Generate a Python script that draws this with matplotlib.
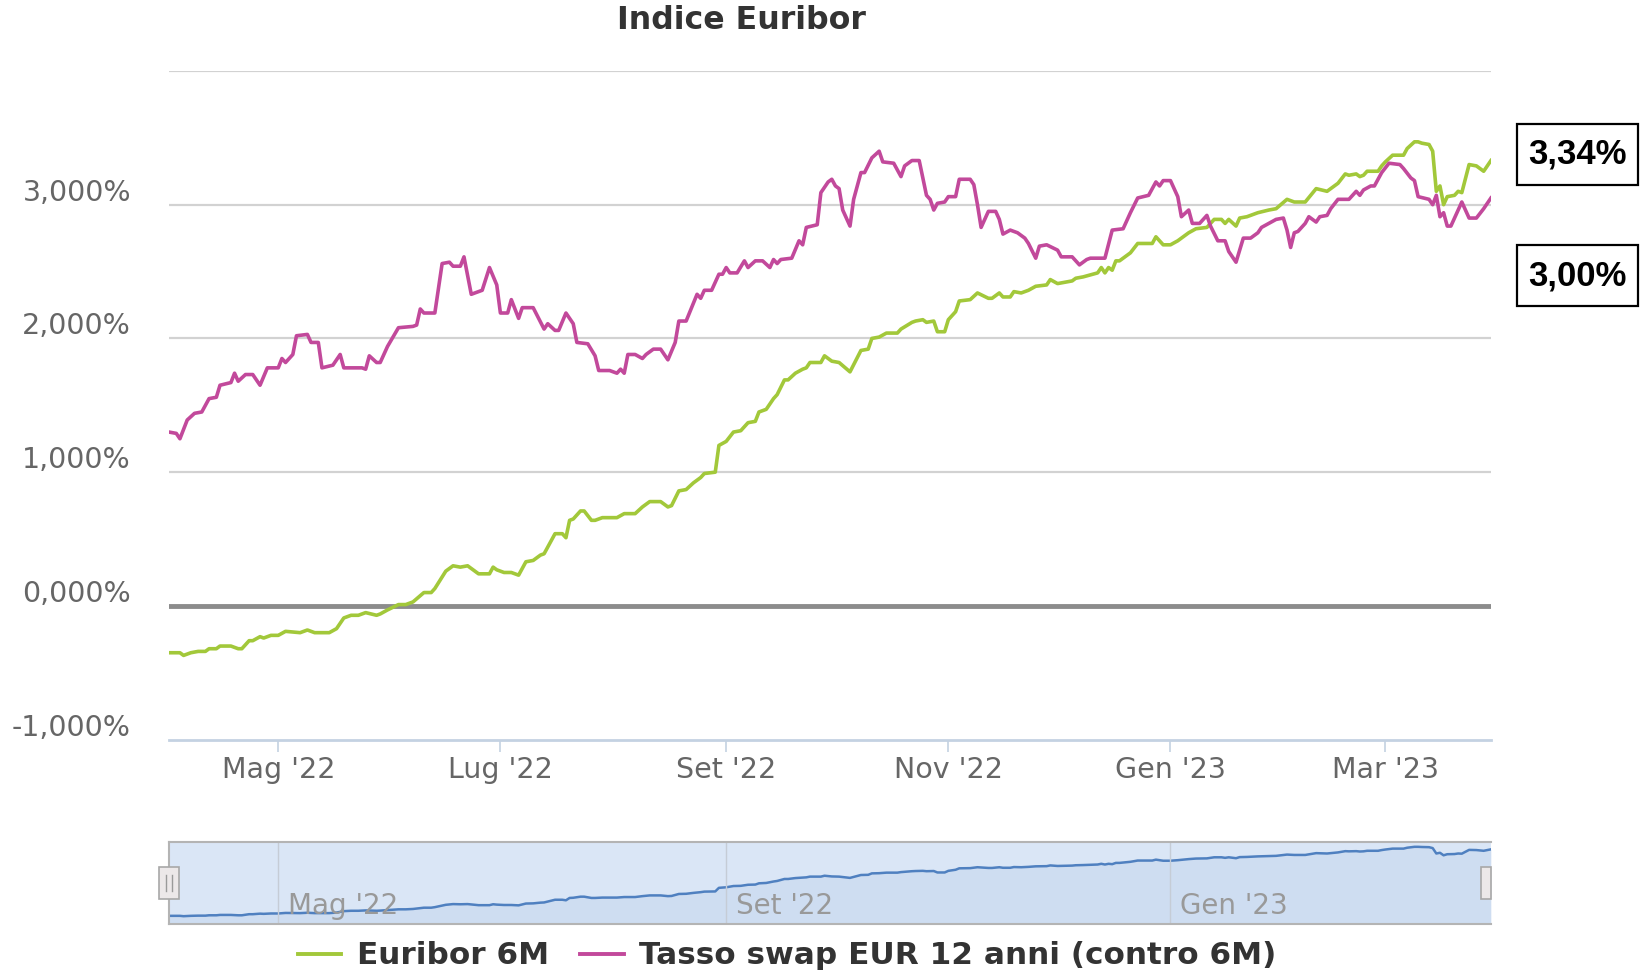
import numpy as np
import matplotlib
matplotlib.use('Agg')
import matplotlib.pyplot as plt
from matplotlib.lines import Line2D
from matplotlib.patches import Rectangle
from matplotlib.transforms import ScaledTranslation, blended_transform_factory

# ---- data (days counted from START) ----
START = np.datetime64('2022-04-01')
END = np.datetime64('2023-03-30')

euribor_days = [
    0, 3, 4, 6, 8, 10, 11, 13, 14, 17, 19, 20, 22, 23, 25, 26, 28, 30, 32, 36,
    38, 40, 44, 46, 48, 50, 52, 54, 57, 58, 60, 63, 65, 67, 70, 72, 73, 76, 78, 80,
    82, 85, 88, 89, 90, 92, 94, 96, 98, 100, 102, 103, 106, 108, 109, 110, 111, 113, 114, 116,
    117, 119, 123, 125, 128, 130, 132, 135, 137, 138, 140, 142, 144, 146, 147, 150, 151, 153, 155, 157,
    159, 161, 162, 164, 166, 167, 169, 170, 172, 174, 175, 176, 179, 180, 182, 184, 187, 190, 192, 193,
    195, 197, 200, 201, 204, 205, 207, 208, 210, 211, 213, 214, 216, 217, 220, 222, 225, 226, 228, 229,
    231, 232, 234, 236, 238, 241, 242, 244, 248, 249, 251, 255, 256, 257, 258, 259, 260, 261, 264, 266,
    270, 271, 273, 275, 277, 280, 282, 285, 287, 289, 290, 291, 293, 294, 296, 299, 302, 304, 307, 309,
    312, 315, 318, 321, 323, 324, 326, 327, 328, 329, 332, 333, 334, 336, 339, 340, 342, 343, 344, 346,
    347, 348, 349, 350, 351, 353, 354, 355, 357, 359, 361, 362, 363,
]
euribor_6m = [
    -0.35, -0.35, -0.37, -0.35, -0.34, -0.34, -0.32, -0.32, -0.30, -0.30, -0.32, -0.32, -0.26, -0.26, -0.23, -0.24, -0.22, -0.22, -0.19, -0.20,
    -0.18, -0.20, -0.20, -0.17, -0.09, -0.07, -0.07, -0.05, -0.07, -0.06, -0.03, 0.01, 0.01, 0.03, 0.10, 0.10, 0.13, 0.26, 0.30, 0.29,
    0.30, 0.24, 0.24, 0.29, 0.27, 0.25, 0.25, 0.23, 0.33, 0.34, 0.38, 0.39, 0.54, 0.54, 0.51, 0.64, 0.65, 0.71, 0.71, 0.64,
    0.64, 0.66, 0.66, 0.69, 0.69, 0.74, 0.78, 0.78, 0.74, 0.75, 0.86, 0.87, 0.92, 0.96, 0.99, 1.00, 1.20, 1.23, 1.30, 1.31,
    1.37, 1.38, 1.45, 1.47, 1.55, 1.58, 1.69, 1.69, 1.74, 1.77, 1.78, 1.82, 1.82, 1.87, 1.83, 1.82, 1.75, 1.91, 1.92, 2.00,
    2.01, 2.04, 2.04, 2.07, 2.12, 2.13, 2.14, 2.12, 2.13, 2.05, 2.05, 2.14, 2.20, 2.28, 2.29, 2.34, 2.30, 2.30, 2.34, 2.31,
    2.31, 2.35, 2.34, 2.36, 2.39, 2.40, 2.44, 2.41, 2.43, 2.45, 2.46, 2.49, 2.53, 2.49, 2.53, 2.51, 2.58, 2.58, 2.64, 2.71,
    2.71, 2.76, 2.70, 2.70, 2.73, 2.79, 2.82, 2.83, 2.89, 2.89, 2.86, 2.89, 2.84, 2.90, 2.91, 2.94, 2.96, 2.97, 3.04, 3.02,
    3.02, 3.12, 3.10, 3.16, 3.23, 3.22, 3.23, 3.21, 3.22, 3.25, 3.25, 3.29, 3.32, 3.37, 3.37, 3.42, 3.47, 3.47, 3.46, 3.45,
    3.40, 3.10, 3.14, 3.00, 3.06, 3.07, 3.10, 3.09, 3.30, 3.29, 3.25, 3.29, 3.33,
]

swap_days = [
    0, 2, 3, 5, 7, 9, 11, 13, 14, 17, 18, 19, 21, 23, 25, 27, 30, 31, 32, 34,
    35, 38, 39, 41, 42, 45, 47, 48, 53, 54, 55, 57, 58, 60, 63, 67, 68, 69, 70, 73,
    75, 77, 78, 80, 81, 83, 85, 86, 88, 90, 91, 93, 94, 96, 97, 100, 103, 104, 106, 107,
    109, 111, 112, 115, 117, 118, 121, 123, 124, 125, 126, 128, 130, 131, 133, 135, 137, 139, 140, 142,
    145, 146, 147, 149, 151, 152, 153, 154, 156, 158, 159, 161, 163, 165, 166, 167, 168, 171, 173, 174,
    175, 178, 179, 181, 182, 183, 184, 185, 187, 188, 190, 191, 193, 195, 196, 199, 201, 202, 204, 206,
    208, 209, 210, 211, 213, 214, 216, 217, 220, 221, 222, 223, 225, 227, 228, 229, 231, 233, 235, 236,
    238, 239, 241, 244, 245, 248, 250, 252, 253, 257, 259, 262, 264, 266, 269, 271, 272, 273, 275, 277,
    278, 280, 281, 283, 285, 286, 288, 290, 291, 293, 295, 297, 299, 300, 302, 304, 306, 307, 308, 309,
    310, 312, 313, 315, 316, 318, 319, 321, 324, 326, 327, 328, 330, 331, 333, 335, 338, 339, 341, 342,
    343, 346, 347, 348, 349, 350, 351, 352, 355, 357, 359, 361, 363,
]
swap_12y = [
    1.30, 1.29, 1.25, 1.39, 1.44, 1.45, 1.55, 1.56, 1.65, 1.67, 1.74, 1.68, 1.73, 1.73, 1.65, 1.78, 1.78, 1.85, 1.82, 1.88,
    2.02, 2.03, 1.97, 1.97, 1.78, 1.80, 1.88, 1.78, 1.78, 1.77, 1.87, 1.82, 1.82, 1.94, 2.08, 2.09, 2.10, 2.22, 2.19, 2.19,
    2.56, 2.57, 2.54, 2.54, 2.61, 2.33, 2.35, 2.36, 2.53, 2.40, 2.19, 2.19, 2.29, 2.15, 2.23, 2.23, 2.07, 2.11, 2.06, 2.06,
    2.19, 2.11, 1.97, 1.96, 1.87, 1.76, 1.76, 1.74, 1.77, 1.74, 1.88, 1.88, 1.85, 1.88, 1.92, 1.92, 1.84, 1.97, 2.13, 2.13,
    2.33, 2.30, 2.36, 2.36, 2.48, 2.48, 2.53, 2.49, 2.49, 2.58, 2.53, 2.58, 2.58, 2.53, 2.59, 2.56, 2.59, 2.60, 2.73, 2.70,
    2.83, 2.85, 3.09, 3.17, 3.19, 3.14, 3.12, 2.96, 2.84, 3.04, 3.24, 3.24, 3.35, 3.40, 3.32, 3.31, 3.21, 3.29, 3.33, 3.33,
    3.07, 3.04, 2.96, 3.01, 3.02, 3.06, 3.06, 3.19, 3.19, 3.15, 3.00, 2.83, 2.95, 2.95, 2.89, 2.78, 2.81, 2.79, 2.75, 2.71,
    2.60, 2.69, 2.70, 2.66, 2.61, 2.61, 2.55, 2.59, 2.60, 2.60, 2.81, 2.82, 2.94, 3.05, 3.07, 3.17, 3.14, 3.18, 3.18, 3.06,
    2.91, 2.96, 2.86, 2.86, 2.92, 2.84, 2.73, 2.73, 2.65, 2.57, 2.75, 2.75, 2.79, 2.83, 2.86, 2.89, 2.90, 2.81, 2.68, 2.79,
    2.80, 2.86, 2.91, 2.87, 2.91, 2.92, 2.97, 3.04, 3.04, 3.10, 3.07, 3.11, 3.14, 3.14, 3.24, 3.31, 3.30, 3.27, 3.20, 3.18,
    3.06, 3.04, 3.00, 3.07, 2.91, 2.94, 2.84, 2.84, 3.02, 2.90, 2.90, 2.97, 3.05,
]

y_ticks = [-1, 0, 1, 2, 3, 4]
y_labels = ['-1,000%', '0,000%', '1,000%', '2,000%', '3,000%', '']
month_ticks = ['2022-05-01', '2022-07-01', '2022-09-01', '2022-11-01', '2023-01-01', '2023-03-01']
month_labels = ["Mag '22", "Lug '22", "Set '22", "Nov '22", "Gen '23", "Mar '23"]
nav_ticks = ['2022-05-01', '2022-09-01', '2023-01-01']
nav_labels = ["Mag '22", "Set '22", "Gen '23"]
series_names = ['Euribor 6M', 'Tasso swap EUR 12 anni (contro 6M)']
last_values = ['3,34%', '3,00%']

GREEN = '#a2c83a'
MAGENTA = '#c2499b'
GRID = '#d2d2d2'
AXIS = '#c4d2e2'
TEXT = '#666666'

eur_dates = START + np.array(euribor_days).astype('timedelta64[D]')
swap_dates = START + np.array(swap_days).astype('timedelta64[D]')
tick_dates = np.array(month_ticks, dtype='datetime64[D]')
nav_dates = np.array(nav_ticks, dtype='datetime64[D]')

plt.rcParams['font.family'] = 'DejaVu Sans'
fig = plt.figure(figsize=(16.44, 9.73), dpi=100)

# ---- main chart ----
ax = fig.add_axes([0.1028, 0.2398, 0.8041, 0.6873])
for v in y_ticks[2:]:
    ax.axhline(v, color=GRID, lw=1.6, zorder=1)
ax.axhline(0, color='#8c8c8c', lw=3.5, zorder=2)
ax.plot(eur_dates, euribor_6m, color=GREEN, lw=2.6, zorder=3)
ax.plot(swap_dates, swap_12y, color=MAGENTA, lw=2.6, zorder=3)
ax.set_xlim(START, END)
ax.set_ylim(-1, 4)

for side in ('top', 'right', 'left'):
    ax.spines[side].set_visible(False)
ax.spines['bottom'].set_color(AXIS)
ax.spines['bottom'].set_linewidth(2)

ax.set_yticks([])
ylab_tr = ax.get_yaxis_transform() + ScaledTranslation(-0.38, 0.12, fig.dpi_scale_trans)
for v, s in zip(y_ticks, y_labels):
    ax.text(0, v, s, transform=ylab_tr, ha='right', va='center', fontsize=20.5, color=TEXT)

ax.set_xticks(tick_dates)
ax.set_xticklabels(month_labels)
ax.tick_params(axis='x', length=8.5, width=1.2, color=AXIS, labelsize=20.5,
               labelcolor=TEXT, pad=3)

# ---- navigator ----
nav = fig.add_axes([0.1028, 0.0504, 0.8041, 0.0843])
nav.set_facecolor('#dae6f6')
nav.fill_between(eur_dates, euribor_6m, -5, color='#c5d6ee', alpha=0.55, lw=0)
nav.plot(eur_dates, euribor_6m, color='#4f80c0', lw=1.8)
for d in nav_dates:
    nav.axvline(d, color='#c5ccd6', lw=1)
nav.set_xlim(START, END)
nav.set_ylim(-0.80, 3.74)
nav.set_xticks([])
nav.set_yticks([])
for sp in nav.spines.values():
    sp.set_color('#b4b4b4')
    sp.set_linewidth(1.5)
nav.spines['right'].set_visible(False)

nav_tr = blended_transform_factory(nav.transData, nav.transAxes) + \
    ScaledTranslation(0.10, 0, fig.dpi_scale_trans)
for d, s in zip(nav_dates, nav_labels):
    nav.text(d, 0.22, s, transform=nav_tr, ha='left', va='center', fontsize=20,
             color='#999999', zorder=5)

# scroll handles
for x0, w in ((-0.0072, 0.0144), (0.9928, 0.0072)):
    nav.add_patch(Rectangle((x0, 0.30), w, 0.40, transform=nav.transAxes,
                            fc='#ece8e9', ec='#a8a8a8', lw=1.2, clip_on=False, zorder=6))
for xl in (-0.002, 0.002):
    nav.plot([xl, xl], [0.40, 0.60], transform=nav.transAxes, color='#9a9a9a',
             lw=1, clip_on=False, zorder=7)

# ---- title, legend, value boxes ----
fig.text(0.4507, 0.9794, 'Indice Euribor', ha='center', va='center', fontsize=22.8,
         fontweight='bold', color='#333333')

handles = [Line2D([], [], color=GREEN, lw=2.8), Line2D([], [], color=MAGENTA, lw=2.8)]
fig.legend(handles, series_names, loc='center', bbox_to_anchor=(0.4787, 0.0175), ncol=2,
           frameon=False, prop={'weight': 'bold', 'size': 22.4}, labelcolor='#333333',
           handlelength=1.4, handletextpad=0.5, columnspacing=1.0)

# boxes with the latest values (figure fractions of box corners)
for s, (yb, yt) in zip(last_values, ((0.8099, 0.8726), (0.6855, 0.7482))):
    fig.patches.append(Rectangle((0.9228, yb), 0.0736, yt - yb, transform=fig.transFigure,
                                 fc='white', ec='black', lw=1.6, figure=fig))
    fig.text(0.9596, (yb + yt) / 2, s, ha='center', va='center', fontsize=25,
             fontweight='bold', family='Liberation Sans', color='black')

fig.savefig('out.png', dpi=100)
